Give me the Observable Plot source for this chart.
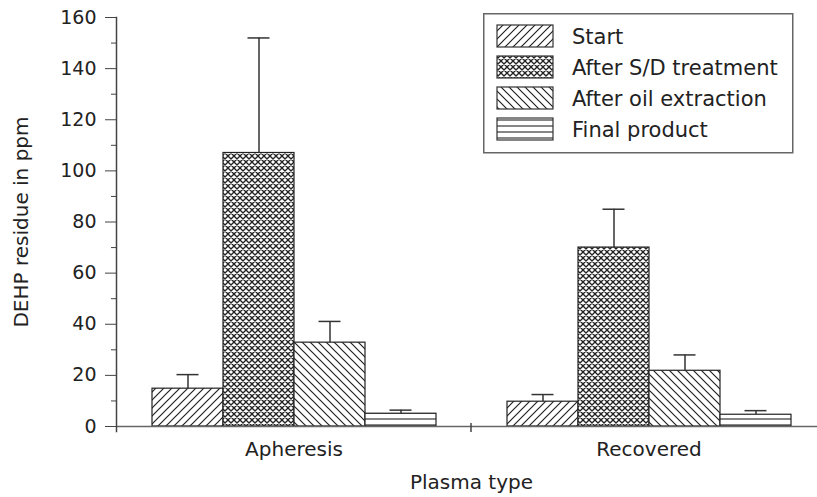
<!DOCTYPE html>
<html><head><meta charset="utf-8">
<script src="https://cdn.jsdelivr.net/npm/d3@7"></script>
<script src="https://cdn.jsdelivr.net/npm/@observablehq/plot@0.6"></script>
<style>
html,body{margin:0;padding:0;background:#fff;overflow:hidden;}
#wrap{position:relative;width:817px;height:497px;overflow:hidden;}
#legend{position:absolute;left:483px;top:13px;}
</style></head><body><div id="wrap"></div>
<script>
const groups = ["Apheresis", "Recovered"];
const series = ["Start", "After S/D treatment", "After oil extraction", "Final product"];
const apheresisMean = [14.8, 107, 32.8, 5];
const apheresisErr = [5.5, 45, 8.3, 1.4];
const recoveredMean = [9.7, 70, 21.8, 4.6];
const recoveredErr = [2.8, 15, 6.2, 1.6];
const yTicks = [0, 20, 40, 60, 80, 100, 120, 140, 160];
const yMinorTicks = [10, 30, 50, 70, 90, 110, 130, 150];
const patternIds = ["pStart", "pSD", "pOil", "pFinal"];

const means = [apheresisMean, recoveredMean];
const errs = [apheresisErr, recoveredErr];
const rows = groups.flatMap((g, gi) => series.map((s, si) => ({
  group: g, series: s, value: means[gi][si], top: means[gi][si] + errs[gi][si]
})));

const chart = Plot.plot({
  width: 826, height: 497,
  marginLeft: 116, marginRight: 0, marginTop: 17, marginBottom: 71,
  style: {fontFamily: "DejaVu Sans", color: "#222", background: "white", maxWidth: "none", overflow: "visible"},
  fx: {domain: groups, padding: 0, label: "Plasma type"},
  x: {domain: series, paddingInner: 0, paddingOuter: 0.5, axis: null},
  y: {domain: [0, 160], axis: null},
  color: {domain: series, range: patternIds.map(id => `url(#${id})`)},
  marks: [
    Plot.barY(rows, {fx: "group", x: "series", y: "value", fill: "series", stroke: "#222", strokeWidth: 1.2}),
    Plot.ruleX(rows, {fx: "group", x: "series", y1: "value", y2: "top", stroke: "#333", strokeWidth: 1.5}),
    Plot.tickY(rows, {fx: "group", x: "series", y: "top", insetLeft: 24.5, insetRight: 24.5, stroke: "#333", strokeWidth: 1.5}),
    Plot.ruleY([0], {stroke: "#666", strokeWidth: 1.5}),
    Plot.frame({anchor: "left", facetAnchor: "left", insetBottom: -5, stroke: "#444", strokeWidth: 1.5}),
    Plot.axisY({ticks: yTicks, tickSize: 11, tickPadding: 9, fontSize: 19, fill: "#222", stroke: "#444", label: null}),
    Plot.axisY({ticks: yMinorTicks, tickSize: 5, tickFormat: () => "", stroke: "#444", fontSize: 20, fill: "#222",
      label: "DEHP residue in ppm", labelAnchor: "center", labelArrow: "none", labelOffset: 103}),
    Plot.axisFx({anchor: "bottom", tickSize: 0, tickPadding: 15, fontSize: 20, fill: "#222",
      label: "Plasma type", labelAnchor: "center", labelOffset: 62}),
    Plot.ruleY([0], {facetAnchor: "right", render: (index, scales, values, dims) => {
      const y0 = scales.y(0);
      const g = d3.create("svg:g");
      g.append("line").attr("x1", dims.marginLeft).attr("x2", dims.marginLeft)
        .attr("y1", y0 - 3).attr("y2", y0 + 6).attr("stroke", "#444").attr("stroke-width", 1.5);
      return g.node();
    }})
  ]
});

// patterns
const defs = d3.create("svg:defs");
function pat(id, w, h, draw) {
  const p = defs.append("pattern").attr("id", id).attr("patternUnits", "userSpaceOnUse")
    .attr("width", w).attr("height", h);
  p.append("rect").attr("width", w).attr("height", h).attr("fill", "white");
  draw(p);
}
pat("pStart", 8, 8, p => p.append("path").attr("d", "M-2,2L2,-2M0,8L8,0M6,10L10,6")
  .attr("stroke", "#222").attr("stroke-width", 1.2));
pat("pSD", 6, 6, p => p.append("path").attr("d", "M-1,1L1,-1M0,6L6,0M5,7L7,5M-1,5L1,7M0,0L6,6M5,-1L7,1")
  .attr("stroke", "#222").attr("stroke-width", 1.35));
pat("pOil", 8, 8, p => p.append("path").attr("d", "M-2,6L2,10M0,0L8,8M6,-2L10,2")
  .attr("stroke", "#222").attr("stroke-width", 1.2));
pat("pFinal", 6, 6, p => p.append("path").attr("d", "M0,5H6")
  .attr("stroke", "#222").attr("stroke-width", 1.1));
chart.insertBefore(defs.node(), chart.firstChild);

const wrap = document.getElementById("wrap");
wrap.appendChild(chart);

// legend
const leg = d3.create("svg").attr("id", "legend").attr("width", 311).attr("height", 141)
  .style("font-family", "DejaVu Sans");
leg.append("rect").attr("x", 0.75).attr("y", 0.75).attr("width", 309).attr("height", 139)
  .attr("fill", "white").attr("stroke", "#666").attr("stroke-width", 1.5);
series.forEach((s, i) => {
  leg.append("rect").attr("x", 14).attr("y", 12 + i * 31).attr("width", 56).attr("height", 22)
    .attr("fill", `url(#${patternIds[i]})`).attr("stroke", "#333").attr("stroke-width", 1.2);
  leg.append("text").attr("x", 89).attr("y", 31 + i * 31).attr("font-size", 21).attr("fill", "#222").text(s);
});
wrap.appendChild(leg.node());
</script></body></html>
